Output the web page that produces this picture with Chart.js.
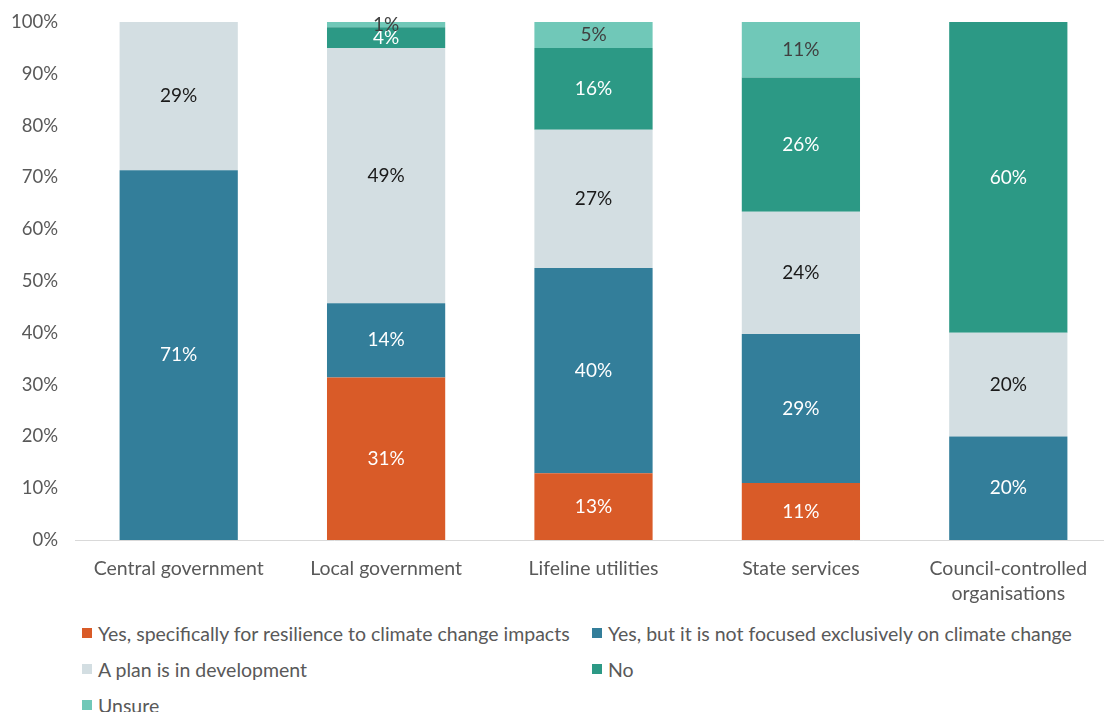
<!DOCTYPE html>
<html>
<head>
<meta charset="utf-8">
<script src="https://cdn.jsdelivr.net/npm/chart.js@4/dist/chart.umd.min.js"></script>
<style>
  html, body { margin: 0; padding: 0; background: #fff; overflow: hidden; }
  body { width: 1104px; height: 712px; position: relative; font-family: Lato, "Open Sans", sans-serif; }
  #wrap { position: absolute; left: 0; top: 2px; width: 1112px; height: 608px; }
  #legend {
    position: absolute; left: 82px; top: 620px; width: 1000px;
    display: grid; grid-template-columns: 510px 1fr; row-gap: 10px;
    color: #595959; font-size: 19.5px;
  }
  .item { display: flex; align-items: center; height: 26px; }
  .box { width: 10px; height: 10px; margin-right: 6px; }
</style>
</head>
<body>
<div id="wrap"><canvas id="planChart"></canvas></div>
<div id="legend"></div>
<script>
const categories = ['Central government', 'Local government', 'Lifeline utilities', 'State services', ['Council-controlled', 'organisations']];

const yesSpecific = [0, 31.4, 12.9, 11.0, 0];
const yesGeneral = [71.4, 14.3, 39.6, 28.8, 20];
const inDevelopment = [28.6, 49.3, 26.7, 23.6, 20];
const noPlan = [0, 4.0, 15.8, 25.9, 60];
const unsure = [0, 1.0, 5.0, 10.7, 0];

const yTicks = [0, 10, 20, 30, 40, 50, 60, 70, 80, 90, 100];

const datasets = [
  { label: 'Yes, specifically for resilience to climate change impacts', data: yesSpecific, backgroundColor: '#D95B28', textColor: '#FFFFFF' },
  { label: 'Yes, but it is not focused exclusively on climate change', data: yesGeneral, backgroundColor: '#337E9A', textColor: '#FFFFFF' },
  { label: 'A plan is in development', data: inDevelopment, backgroundColor: '#D3DEE2', textColor: '#1A1A1A' },
  { label: 'No', data: noPlan, backgroundColor: '#2C9985', textColor: '#FFFFFF' },
  { label: 'Unsure', data: unsure, backgroundColor: '#70C8B8', textColor: '#404040' }
];

// percentage labels in the middle of each segment
const segmentLabels = {
  id: 'segmentLabels',
  afterDatasetsDraw(chart) {
    const ctx = chart.ctx;
    ctx.save();
    ctx.font = '19px Lato, "Open Sans", sans-serif';
    ctx.textAlign = 'center';
    ctx.textBaseline = 'middle';
    chart.data.datasets.forEach((ds, i) => {
      const meta = chart.getDatasetMeta(i);
      meta.data.forEach((bar, j) => {
        const v = ds.data[j];
        if (!v) return;
        ctx.fillStyle = ds.textColor;
        ctx.fillText(Math.round(v) + '%', bar.x, (bar.y + bar.base) / 2);
      });
    });
    ctx.restore();
  }
};

Chart.defaults.font.family = 'Lato, "Open Sans", sans-serif';
Chart.defaults.color = '#595959';

const chart = new Chart(document.getElementById('planChart'), {
  type: 'bar',
  data: {
    labels: categories,
    datasets: datasets.map(d => ({
      label: d.label,
      data: d.data,
      backgroundColor: d.backgroundColor,
      textColor: d.textColor,
      barPercentage: 0.57,
      categoryPercentage: 1
    }))
  },
  options: {
    responsive: true,
    maintainAspectRatio: false,
    animation: false,
    layout: { padding: { top: 17, right: 0, left: 0, bottom: 0 } },
    plugins: {
      legend: { display: false },
      tooltip: { enabled: false }
    },
    scales: {
      x: {
        stacked: true,
        grid: { display: false },
        border: { color: '#D9D9D9', width: 1 },
        ticks: { font: { size: 19.5, lineHeight: 1.25 }, padding: 9, maxRotation: 0, autoSkip: false },
        afterFit(scale) { scale.height = 70; }
      },
      y: {
        stacked: true,
        min: 0,
        max: 100,
        afterBuildTicks(scale) { scale.ticks = yTicks.map(v => ({ value: v })); },
        grid: { display: false },
        border: { display: false },
        ticks: { font: { size: 18.5 }, padding: 9, callback: v => v + '%' },
        afterFit(scale) { scale.width = 75; }
      }
    }
  },
  plugins: [segmentLabels]
});

// two-column legend under the chart
const legend = document.getElementById('legend');
chart.data.datasets.forEach(ds => {
  const item = document.createElement('div');
  item.className = 'item';
  item.innerHTML = `<span class="box" style="background:${ds.backgroundColor}"></span><span>${ds.label}</span>`;
  legend.appendChild(item);
});
</script>
</body>
</html>
